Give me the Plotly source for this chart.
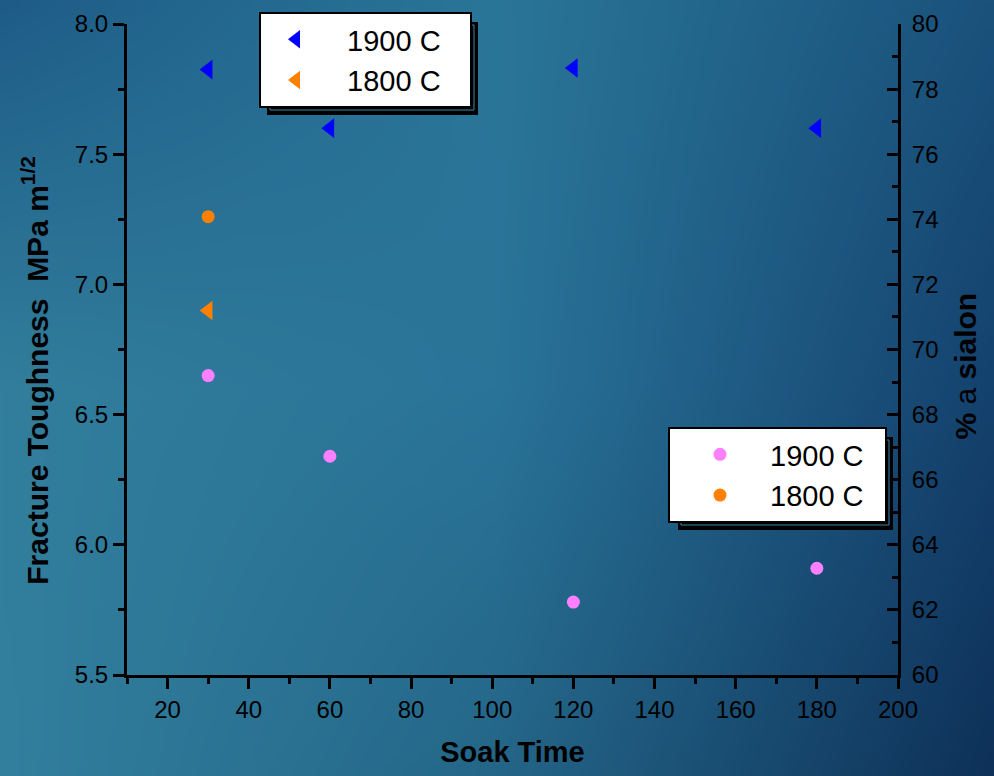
import base64
import struct
import zlib

import numpy as np
import plotly.graph_objects as go

# ---------------- data ----------------
soak_time_1900 = [30, 60, 120, 180]
soak_time_1800 = [30]
alpha_sialon_1900 = [78.6, 76.8, 78.65, 76.8]   # % alpha sialon (right axis)
alpha_sialon_1800 = [71.2]
toughness_1900 = [6.65, 6.34, 5.78, 5.91]         # MPa m^1/2 (left axis)
toughness_1800 = [7.26]
legend_labels = ["1900 C", "1800 C"]

# ---------------- background gradient ----------------
W, H = 994, 776
L, R, T, B = 127, 96, 24, 101
PW, PH = W - L - R, H - T - B
NB = "\u00a0"


def make_bg(w=250, h=195):
    grid = np.array([
        [[30, 92, 135], [42, 118, 152], [26, 82, 124]],
        [[50, 126, 156], [42, 116, 153], [20, 66, 110]],
        [[50, 127, 158], [36, 102, 136], [14, 49, 89]],
    ], dtype=float)
    ys = np.linspace(0, 2, h)
    xs = np.linspace(0, 2, w)
    img = np.zeros((h, w, 3))
    for i, yy in enumerate(ys):
        y0 = min(int(yy), 1)
        fy = yy - y0
        for j, xx in enumerate(xs):
            x0 = min(int(xx), 1)
            fx = xx - x0
            c = (grid[y0, x0] * (1 - fx) * (1 - fy) + grid[y0, x0 + 1] * fx * (1 - fy)
                 + grid[y0 + 1, x0] * (1 - fx) * fy + grid[y0 + 1, x0 + 1] * fx * fy)
            img[i, j] = c
    return img.clip(0, 255).astype(np.uint8)


def png_uri(arr):
    h, w, _ = arr.shape
    raw = b"".join(b"\x00" + arr[r].tobytes() for r in range(h))

    def chunk(tag, data):
        return (struct.pack(">I", len(data)) + tag + data
                + struct.pack(">I", zlib.crc32(tag + data) & 0xFFFFFFFF))

    png = (b"\x89PNG\r\n\x1a\n"
           + chunk(b"IHDR", struct.pack(">IIBBBBB", w, h, 8, 2, 0, 0, 0))
           + chunk(b"IDAT", zlib.compress(raw, 9))
           + chunk(b"IEND", b""))
    return "data:image/png;base64," + base64.b64encode(png).decode()


def px(xp):
    return (xp - L) / PW


def py(yp):
    return (H - B - yp) / PH


FONT = "Arial, Liberation Sans, sans-serif"

leg1_names = [NB * 2 + s + NB * 3 for s in legend_labels]
leg2_names = [s + NB * 2 for s in legend_labels]

fig = go.Figure()

fig.add_trace(go.Scatter(
    x=soak_time_1900, y=alpha_sialon_1900, mode="markers", name=leg1_names[0],
    marker=dict(symbol="triangle-left", size=17, color="#0000FF"),
    yaxis="y2", legend="legend"))
fig.add_trace(go.Scatter(
    x=soak_time_1800, y=alpha_sialon_1800, mode="markers", name=leg1_names[1],
    marker=dict(symbol="triangle-left", size=17, color="#FF8000"),
    yaxis="y2", legend="legend"))
fig.add_trace(go.Scatter(
    x=soak_time_1900, y=toughness_1900, mode="markers", name=leg2_names[0],
    marker=dict(symbol="circle", size=13, color="#FF80FF"),
    yaxis="y", legend="legend2"))
fig.add_trace(go.Scatter(
    x=soak_time_1800, y=toughness_1800, mode="markers", name=leg2_names[1],
    marker=dict(symbol="circle", size=13, color="#FF8000"),
    yaxis="y", legend="legend2"))

axis_common = dict(
    showline=True, linecolor="black", linewidth=3, showgrid=False, zeroline=False,
    tickcolor="black", tickwidth=3, ticklen=11,
    tickfont=dict(family=FONT, size=24, color="black"),
)

fig.update_layout(
    width=W, height=H,
    margin=dict(l=L, r=R, t=T, b=B, autoexpand=False),
    paper_bgcolor="#2a7498", plot_bgcolor="rgba(0,0,0,0)",
    font=dict(family=FONT, color="black"),
    xaxis=dict(
        range=[10, 200], tick0=0, dtick=20, ticks="outside",
        minor=dict(dtick=10, ticks="outside", ticklen=6, tickwidth=3, tickcolor="black"),
        title=dict(text="<b>Soak Time</b>", font=dict(size=29, family=FONT), standoff=20),
        **axis_common),
    yaxis=dict(
        range=[5.5, 8.0], dtick=0.5, tickformat=".1f", ticks="outside",
        minor=dict(dtick=0.25, ticks="outside", ticklen=6, tickwidth=3, tickcolor="black"),
        title=dict(text="<b>Fracture Toughness" + NB * 2 + "MPa m<sup>1/2</sup>" + NB * 5 + "</b>",
                   font=dict(size=30, family=FONT), standoff=18),
        **axis_common),
    yaxis2=dict(
        range=[60, 80], dtick=2, ticks="inside", side="right", overlaying="y",
        minor=dict(dtick=1, ticks="inside", ticklen=6, tickwidth=3, tickcolor="black"),
        ticklabelstandoff=6,
        title=dict(text="<b>%</b> a <b>sialon" + NB * 4 + "</b>", font=dict(size=30, family=FONT),
                   standoff=18),
        **axis_common),
    legend=dict(
        x=px(259), y=py(12), xanchor="left", yanchor="top",
        bgcolor="white", bordercolor="black", borderwidth=2,
        font=dict(size=29, family=FONT, color="black"),
        itemwidth=60, tracegroupgap=0),
    legend2=dict(
        x=px(668), y=py(427), xanchor="left", yanchor="top",
        bgcolor="white", bordercolor="black", borderwidth=2,
        font=dict(size=29, family=FONT, color="black"),
        itemwidth=90, tracegroupgap=0),
    images=[dict(
        source=png_uri(make_bg()), xref="paper", yref="paper",
        x=px(0), y=py(0), sizex=W / PW, sizey=H / PH,
        xanchor="left", yanchor="top", sizing="stretch", layer="below")],
)

# legend drop shadows
for (x0, y0, x1, y1) in [(267, 22, 478, 115), (678, 437, 893, 530)]:
    fig.add_shape(type="rect", xref="paper", yref="paper",
                  x0=px(x0), x1=px(x1), y0=py(y1), y1=py(y0),
                  fillcolor="black", line=dict(width=0), layer="above")
    fig.add_shape(type="rect", xref="paper", yref="paper",
                  x0=px(x0 + 3), x1=px(x1 - 4), y0=py(y1 - 5), y1=py(y0 + 3),
                  fillcolor="rgba(0,0,0,0)", line=dict(width=1, color="#3a86a8"),
                  layer="above")

fig.write_html("out.html")
